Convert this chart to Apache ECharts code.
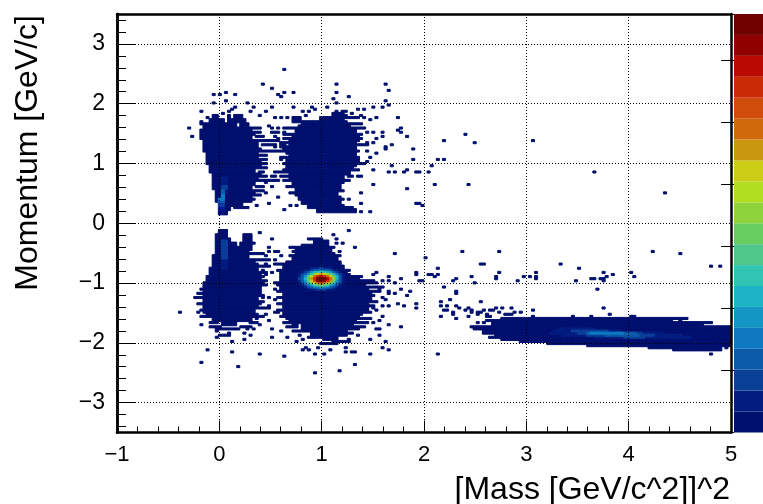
<!DOCTYPE html>
<html>
<head>
<meta charset="utf-8">
<style>html,body{margin:0;padding:0;background:#fff;overflow:hidden}#chart{width:763px;height:504px}</style>
<script src="https://cdn.jsdelivr.net/npm/echarts@6/dist/echarts.min.js"></script>
</head>
<body>
<div id="chart"></div>
<script>
// bins of the 2D histogram
const BIN_X = 0.03
const BIN_Y = 0.035

// 20 colour levels, bottom to top of the palette
const palette = ['#00106e', '#021c80', '#0a3f98', '#0b5aa8', '#0d78c0', '#1396c4', '#1eb3c6', '#31c4b2', '#4fc68a', '#66cd5e',
  '#8ed23c', '#b2de22', '#cccc14', '#c9980e', '#cf6a0c', '#cf4c0a', '#cb2a06', '#b80a02', '#900000', '#6e0000']

const yTicks = [-3, -2, -1, 0, 1, 2, 3]
const yMinorTicks = [-3.4, -3.2, -2.8, -2.6, -2.4, -2.2, -1.8, -1.6, -1.4, -1.2, -0.8, -0.6, -0.4, -0.2,
  0.2, 0.4, 0.6, 0.8, 1.2, 1.4, 1.6, 1.8, 2.2, 2.4, 2.6, 2.8, 3.2, 3.4]

// filled rows [y, x from, x to], each row two bins high, lowest level
const upperLeftRows = [
  [0.14, -0.01, 0.05], [0.21, -0.01, 0.09], [0.28, -0.01, 0.13], [0.28, 0.16, 0.22], [0.35, -0.02, 0.16], [0.35, 0.19, 0.31],
  [0.42, -0.03, 0.30], [0.49, -0.04, 0.32], [0.56, -0.05, 0.33], [0.63, -0.06, 0.34], [0.70, -0.07, 0.36], [0.77, -0.07, 0.38],
  [0.84, -0.09, 0.34], [0.91, -0.10, 0.39], [0.98, -0.11, 0.40], [1.05, -0.12, 0.38], [1.12, -0.13, 0.36], [1.19, -0.15, 0.33],
  [1.19, 0.36, 0.40], [1.26, -0.16, 0.37], [1.33, -0.16, 0.36], [1.40, -0.17, 0.32], [1.47, -0.17, 0.35], [1.54, -0.16, 0.30],
  [1.61, -0.15, 0.17], [1.61, 0.20, 0.26], [1.68, -0.10, -0.03], [1.68, 0.00, 0.04], [1.68, 0.08, 0.11], [1.68, 0.14, 0.25],
  [1.75, -0.05, -0.01], [1.75, 0.08, 0.10], [1.75, 0.15, 0.22]
]
const upperRightRows = [
  [0.20, 0.97, 1.34], [0.27, 0.87, 1.21], [0.34, 0.81, 1.18], [0.41, 0.78, 1.17], [0.48, 0.76, 1.16], [0.55, 0.74, 1.18],
  [0.62, 0.73, 1.18], [0.69, 0.71, 1.20], [0.76, 0.70, 1.22], [0.83, 0.68, 1.25], [0.90, 0.66, 1.30], [0.97, 0.65, 1.33],
  [1.04, 0.65, 1.34], [1.11, 0.70, 1.33], [1.18, 0.66, 1.33], [1.25, 0.64, 1.33], [1.32, 0.70, 1.34], [1.39, 0.70, 1.36],
  [1.46, 0.72, 1.37], [1.53, 0.74, 1.33], [1.60, 0.78, 1.28], [1.67, 0.82, 1.24], [1.74, 0.72, 0.79], [1.74, 0.98, 1.20],
  [1.81, 1.10, 1.20]
]
const lowerLeftRows = [
  [-0.17, -0.01, 0.05], [-0.24, -0.02, 0.07], [-0.24, 0.23, 0.29], [-0.31, -0.03, 0.10], [-0.31, 0.23, 0.29], [-0.38, -0.03, 0.17],
  [-0.38, 0.22, 0.31], [-0.45, -0.03, 0.20], [-0.45, 0.22, 0.32], [-0.52, -0.04, 0.27], [-0.59, -0.05, 0.30], [-0.66, -0.06, 0.33],
  [-0.73, -0.06, 0.36], [-0.80, -0.09, 0.36], [-0.87, -0.10, 0.39], [-0.94, -0.11, 0.40], [-1.01, -0.12, 0.42], [-1.08, -0.14, 0.42],
  [-1.15, -0.16, 0.38], [-1.22, -0.16, 0.40], [-1.29, -0.16, 0.36], [-1.36, -0.16, 0.39], [-1.43, -0.15, 0.38], [-1.50, -0.14, 0.36],
  [-1.57, -0.12, 0.36], [-1.64, -0.07, 0.30], [-1.71, 0.02, 0.14]
]
const lowerRightRows = [
  [-0.33, 0.92, 1.05], [-0.40, 0.82, 1.07], [-0.47, 0.76, 1.10], [-0.54, 0.74, 1.12], [-0.61, 0.71, 1.15], [-0.68, 0.66, 1.17],
  [-0.75, 0.63, 1.20], [-0.82, 0.61, 1.25], [-0.89, 0.61, 1.29], [-0.96, 0.61, 1.38], [-1.03, 0.61, 1.42], [-1.10, 0.61, 1.46],
  [-1.17, 0.62, 1.47], [-1.24, 0.62, 1.47], [-1.31, 0.63, 1.47], [-1.38, 0.63, 1.45], [-1.45, 0.63, 1.44], [-1.52, 0.64, 1.40],
  [-1.59, 0.66, 1.37], [-1.66, 0.70, 1.34], [-1.73, 0.73, 0.76], [-1.73, 0.80, 1.30], [-1.80, 0.82, 1.25], [-1.87, 0.90, 1.23],
  [-1.94, 1.03, 1.15]
]
const bandRows = [
  [-1.62, 2.75, 4.40], [-1.69, 2.66, 4.67], [-1.76, 2.49, 5.0], [-1.83, 2.58, 5.0], [-1.90, 2.71, 5.0], [-1.97, 2.94, 5.0],
  [-2.04, 3.59, 5.0], [-2.11, 4.44, 4.90]
]

// broken rows along the blob edges [y, x from, x to], one bin high
const fringeRows = [
  [1.60, 0.30, 0.40], [1.52, 0.37, 0.42], [1.52, 0.50, 0.56], [1.45, 0.36, 0.43], [1.38, 0.39, 0.46], [1.38, 0.52, 0.58],
  [1.30, 0.41, 0.48], [1.30, 0.52, 0.56], [1.30, 0.60, 0.65], [1.22, 0.40, 0.49], [1.22, 0.52, 0.56], [1.15, 0.39, 0.47],
  [1.08, 0.40, 0.46], [1.08, 0.60, 0.62], [1.00, 0.40, 0.47], [0.93, 0.41, 0.45], [0.85, 0.39, 0.44], [0.85, 0.54, 0.58],
  [0.85, 0.60, 0.66], [0.78, 0.40, 0.46], [0.78, 0.52, 0.57], [0.78, 0.60, 0.68], [0.70, 0.38, 0.50], [0.70, 0.55, 0.58],
  [0.62, 0.36, 0.44], [0.55, 0.36, 0.42], [0.47, 0.33, 0.40], [0.40, 0.31, 0.36], [0.25, 0.16, 0.28], [1.66, -0.19, -0.15],
  [1.70, 0.72, 0.80], [1.58, 0.62, 0.74], [1.50, 0.64, 0.72], [1.42, 0.63, 0.70], [1.35, 0.60, 0.68], [1.28, 0.60, 0.66],
  [1.20, 0.58, 0.66], [1.10, 0.62, 0.68], [1.00, 0.62, 0.65], [0.88, 0.62, 0.68], [0.80, 0.64, 0.70], [0.72, 0.64, 0.72],
  [0.62, 0.66, 0.73], [0.52, 0.68, 0.76], [1.75, 1.20, 1.35], [1.66, 1.24, 1.40], [1.58, 1.28, 1.42], [1.50, 1.33, 1.41],
  [1.40, 1.36, 1.40], [1.30, 1.34, 1.38], [1.30, 1.42, 1.46], [1.20, 1.33, 1.38], [1.10, 1.33, 1.37], [1.00, 1.33, 1.42],
  [0.90, 1.30, 1.36], [0.80, 1.25, 1.30], [0.80, 1.34, 1.38], [0.70, 1.20, 1.26], [0.55, 1.18, 1.22], [0.40, 1.17, 1.20],
  [0.25, 1.21, 1.30],
  [-1.0, -0.15, -0.12], [-1.1, -0.19, -0.14], [-1.18, -0.21, -0.16], [-1.25, -0.20, -0.16], [-1.35, -0.20, -0.15], [-1.45, -0.18, -0.14],
  [-1.55, -0.17, -0.12], [-1.65, -0.10, -0.04], [-1.72, -0.09, 0.02], [-1.78, -0.04, 0.16], [-1.88, 0.0, 0.10],
  [-0.35, 0.25, 0.36], [-0.5, 0.27, 0.42], [-0.62, 0.33, 0.48], [-0.73, 0.36, 0.50], [-0.82, 0.38, 0.44], [-0.95, 0.40, 0.46],
  [-1.05, 0.42, 0.46], [-1.2, 0.40, 0.45], [-1.32, 0.39, 0.44], [-1.42, 0.38, 0.47], [-1.55, 0.36, 0.44], [-1.68, 0.30, 0.38], [-1.73, 0.22, 0.32],
  [-0.42, 0.72, 0.82], [-0.42, 1.07, 1.12], [-0.55, 0.70, 0.74], [-0.55, 1.12, 1.18], [-0.7, 0.58, 0.66], [-0.78, 0.56, 0.63], [-0.78, 1.2, 1.28],
  [-0.88, 1.29, 1.40], [-0.95, 1.38, 1.48], [-1.0, 1.42, 1.55], [-1.06, 1.46, 1.60], [-1.13, 1.47, 1.56], [-1.2, 1.47, 1.52], [-1.3, 1.47, 1.55],
  [-1.38, 1.45, 1.52], [-1.48, 1.42, 1.50], [-1.58, 1.37, 1.47], [-1.65, 1.34, 1.45], [-1.72, 1.30, 1.40], [-1.78, 1.25, 1.34], [-1.85, 1.23, 1.30],
  [-1.0, 0.55, 0.61], [-1.13, 0.56, 0.62], [-1.25, 0.58, 0.62], [-1.35, 0.56, 0.63], [-1.45, 0.58, 0.63], [-1.55, 0.60, 0.66], [-1.65, 0.62, 0.70],
  [-1.72, 0.66, 0.73], [-1.82, 0.73, 0.82], [-1.92, 0.88, 1.03], [-2.0, 1.0, 1.15], [-1.98, 1.15, 1.28], [-0.28, 0.88, 1.0],
  [-1.59, 4.40, 4.55], [-1.66, 4.67, 4.80], [-2.0, 3.2, 3.6], [-2.07, 4.2, 4.5], [-1.62, 2.6, 2.75], [-1.72, 2.5, 2.6], [-1.9, 2.65, 2.75], [-1.93, 2.76, 2.94]
]

// brighter rows [y, x from, x to, level], one bin high
const brightRows = [
  [0.23, 0.01, 0.04, 1], [0.265, 0.01, 0.04, 1], [0.30, 0.01, 0.04, 2], [0.335, 0.01, 0.04, 2], [0.37, 0.01, 0.04, 3], [0.405, 0.01, 0.04, 4],
  [0.44, 0.02, 0.04, 4], [0.475, 0.02, 0.04, 4], [0.51, 0.02, 0.04, 3], [0.51, 0.04, 0.07, 1], [0.545, 0.02, 0.04, 3], [0.58, 0.02, 0.05, 2],
  [0.615, 0.02, 0.05, 2], [0.65, 0.02, 0.07, 1], [0.685, 0.02, 0.07, 1], [0.72, 0.02, 0.07, 1], [0.755, 0.02, 0.07, 1],
  [-0.30, 0.02, 0.05, 2], [-0.335, 0.02, 0.05, 2], [-0.37, 0.02, 0.05, 2], [-0.405, 0.02, 0.05, 2], [-0.44, 0.02, 0.05, 2], [-0.475, 0.02, 0.05, 2],
  [-0.51, 0.02, 0.05, 2], [-0.545, 0.02, 0.05, 2], [-0.58, 0.02, 0.05, 2], [-0.615, 0.02, 0.05, 1], [-0.65, 0.02, 0.05, 1], [-0.685, 0.02, 0.05, 1],
  [-0.72, 0.02, 0.05, 1], [-0.755, 0.02, 0.05, 1],
  [-1.76, 3.33, 3.66, 1], [-1.795, 3.27, 3.92, 1], [-1.795, 3.46, 3.79, 2], [-1.83, 3.23, 4.31, 1], [-1.83, 3.50, 4.11, 2], [-1.83, 3.60, 4.05, 3],
  [-1.83, 3.63, 3.95, 4], [-1.865, 3.36, 4.50, 1], [-1.865, 3.59, 4.24, 2], [-1.865, 3.79, 4.11, 3], [-1.90, 3.69, 4.60, 1], [-1.90, 3.96, 4.15, 2]
]

// peak near (1, -0.9): one row per y bin, level in each x bin starting at hotX
const hotX = 0.78
const hotY = [-0.74, -0.775, -0.81, -0.845, -0.88, -0.915, -0.95, -0.985, -1.02, -1.055, -1.09]
const hotLevels = [
  [0, 0, 0, 0, 1, 1, 1, 2, 1, 1, 1, 0, 0, 0, 0],
  [0, 0, 1, 1, 2, 3, 3, 4, 3, 3, 2, 1, 1, 0, 0],
  [0, 1, 2, 3, 5, 6, 7, 7, 7, 6, 5, 3, 2, 1, 0],
  [1, 2, 3, 5, 7, 10, 12, 13, 12, 10, 8, 6, 4, 2, 1],
  [1, 3, 5, 8, 11, 14, 16, 17, 16, 14, 12, 9, 6, 3, 1],
  [2, 3, 6, 9, 13, 16, 19, 19, 19, 17, 14, 10, 6, 3, 1],
  [1, 3, 5, 8, 12, 15, 18, 19, 18, 16, 13, 9, 5, 3, 1],
  [1, 2, 4, 6, 9, 11, 13, 14, 13, 11, 9, 6, 4, 2, 1],
  [0, 1, 2, 4, 5, 7, 8, 9, 8, 7, 5, 4, 2, 1, 0],
  [0, 0, 1, 2, 3, 4, 4, 5, 4, 4, 3, 2, 1, 0, 0],
  [0, 0, 0, 1, 1, 1, 2, 2, 2, 1, 1, 1, 0, 0, 0]
]

// single isolated bins [x, y]
const upperStrays = [
  [0.63, 2.56], [0.42, 2.32], [0.51, 2.25], [0.58, 2.15], [0.60, 2.12], [0.63, 2.18], [0.72, 2.18], [-0.05, 2.15], [0.01, 2.15], [0.07, 2.18],
  [0.15, 2.15], [-0.05, 2.0], [0.07, 2.04], [0.27, 2.0], [0.15, 1.93], [0.09, 1.87], [0.33, 1.93], [0.30, 1.87], [0.46, 1.87], [0.51, 1.93],
  [0.72, 1.93], [-0.17, 1.87], [-0.12, 1.78], [0.12, 1.89], [0.20, 1.81], [0.04, 1.84], [0.40, 1.81], [0.54, 1.77], [0.60, 1.77], [0.66, 1.77],
  [0.76, 1.76], [0.81, 1.87], [0.87, 1.87], [0.90, 1.93], [0.93, 1.91], [0.84, 1.81], [1.06, 1.93], [1.14, 2.32], [1.14, 2.18], [1.26, 2.12],
  [1.11, 2.08], [1.14, 2.0], [1.62, 2.32], [1.65, 2.22], [1.62, 2.04], [1.65, 1.98], [1.59, 1.93], [1.50, 1.93], [1.41, 1.91], [1.34, 1.91],
  [1.24, 1.87], [1.15, 1.87], [1.18, 1.82], [1.20, 1.87], [1.22, 1.80], [1.29, 1.84], [1.37, 1.81], [1.53, 1.77], [1.47, 1.73], [1.41, 1.78],
  [1.74, 1.77], [1.77, 1.59], [1.77, 1.52], [1.83, 1.45], [1.89, 1.24], [1.62, 1.27], [1.62, 1.24], [1.59, 1.52], [1.59, 1.45], [1.50, 1.52],
  [1.44, 1.52], [1.53, 1.41], [1.50, 1.34], [1.44, 1.34], [1.44, 1.2], [1.53, 1.17], [1.47, 1.1], [1.44, 1.02], [1.68, 0.97], [1.71, 0.87],
  [1.92, 0.87], [1.50, 0.89], [1.50, 0.64], [1.83, 0.59], [1.38, 0.52], [1.38, 0.34], [1.26, 0.41], [1.92, 0.34], [1.94, 0.34], [1.47, 0.2],
  [1.37, 0.2], [0.63, 0.24], [0.69, 0.31], [0.76, 0.31], [0.49, 0.34], [0.57, 0.44], [0.36, 0.31], [0.54, 1.51], [0.54, 1.45], [0.58, 1.42],
  [0.48, 1.37], [0.49, 1.31], [0.54, 1.31], [0.53, 1.26], [0.46, 1.12], [0.60, 1.11], [0.54, 0.87], [0.54, 0.78], [0.61, 0.87], [0.64, 0.78],
  [0.50, 0.73], [0.46, 0.67], [0.43, 0.62], [0.40, 0.48], [0.46, 0.51], [0.51, 0.62], [0.48, 1.64], [0.51, 1.59], [0.58, 1.59], [0.64, 1.53],
  [0.67, 1.59], [-0.29, 1.59], [-0.26, 1.45], [-0.17, 1.7], [-0.17, 1.56], [3.66, 0.84], [4.35, 0.51], [1.82, 0.89], [2.39, 1.48], [2.18, 1.39],
  [2.50, 1.36], [2.13, 1.06], [2.19, 1.07], [2.06, 0.97], [1.96, 0.86], [2.04, 0.86], [1.80, 0.86], [1.75, 1.56], [1.94, 0.34], [1.98, 0.31],
  [1.65, 0.86], [1.67, 1.31], [2.43, 0.64], [2.11, 0.64], [1.88, 1.06], [3.07, 1.38]
]
const lowerStrays = [
  [0.40, -0.17], [0.51, -0.27], [1.26, -0.13], [1.11, -0.2], [1.14, -0.27], [1.14, -0.33], [1.20, -0.33], [1.33, -0.41], [1.17, -0.47], [1.17, -0.54],
  [1.71, -0.51], [0.49, -0.41], [0.49, -0.46], [0.54, -0.48], [0.58, -0.48], [0.60, -0.54], [0.70, -0.41], [0.72, -0.48], [0.46, -0.56], [0.40, -0.51],
  [0.49, -0.61], [0.54, -0.61], [0.54, -0.68], [0.46, -0.68], [0.43, -0.79], [0.46, -0.86], [0.51, -0.84], [0.43, -0.9], [0.54, -1.0], [0.54, -1.09],
  [0.58, -1.04], [0.48, -1.23], [0.54, -1.29], [0.58, -1.23], [0.48, -1.37], [0.43, -1.23], [0.54, -1.48], [0.58, -1.48], [0.46, -1.51], [0.49, -1.62],
  [0.40, -1.69], [0.36, -1.61], [0.23, -1.94], [0.28, -1.76], [0.23, -1.84], [0.17, -1.76], [0.10, -1.84], [0.04, -1.87], [-0.04, -1.91], [-0.17, -1.69],
  [-0.09, -1.73], [-0.03, -1.8], [0.07, -1.87], [0.12, -1.98], [-0.11, -2.11], [0.12, -2.15], [0.40, -2.18], [0.63, -2.22], [-0.18, -2.33], [0.18, -2.39],
  [0.94, -2.49], [1.17, -2.46], [1.33, -2.36], [-0.38, -1.48], [-0.24, -1.24], [-0.20, -1.34], [-0.20, -1.48], [-0.17, -1.57], [0.31, -1.87], [0.33, -1.76],
  [0.51, -1.76], [0.51, -1.9], [0.60, -1.8], [0.66, -1.91], [0.72, -1.82], [0.77, -1.87], [0.82, -1.96], [0.85, -2.07], [0.82, -2.12], [0.76, -1.98],
  [0.87, -2.11], [0.93, -2.18], [0.97, -2.09], [1.02, -2.18], [0.99, -2.0], [1.08, -2.11], [1.11, -1.98], [1.23, -2.09], [1.29, -2.15], [1.33, -2.15],
  [1.23, -2.15], [1.47, -2.18], [1.59, -2.08], [1.65, -2.11], [1.62, -1.98], [1.47, -1.93], [1.56, -1.87], [1.36, -1.87], [1.26, -1.93], [1.18, -1.97],
  [1.50, -0.87], [1.54, -0.83], [1.65, -0.9], [1.65, -0.96], [1.59, -0.96], [1.50, -0.96], [1.72, -1.0], [1.77, -0.93], [1.92, -0.84], [1.92, -0.87],
  [1.94, -0.97], [1.77, -1.12], [1.71, -1.17], [1.86, -1.13], [1.83, -1.21], [1.65, -1.15], [1.65, -1.19], [1.57, -1.09], [1.60, -1.24], [1.62, -1.28],
  [1.65, -1.39], [1.74, -1.36], [1.80, -1.39], [1.92, -1.36], [1.92, -1.42], [1.50, -1.43], [1.54, -1.46], [1.60, -1.39], [1.59, -1.57], [1.56, -1.62],
  [1.50, -1.68], [1.65, -1.69], [1.77, -1.73], [1.57, -1.76], [1.54, -1.76], [1.42, -1.73]
]
const bandStrays = [
  [2.01, -0.58], [2.37, -0.48], [2.73, -0.48], [2.14, -0.76], [2.54, -0.69], [2.57, -0.69], [2.73, -0.83], [3.34, -0.69], [3.51, -0.76], [4.23, -0.48],
  [4.50, -0.52], [4.80, -0.72], [4.90, -0.72], [2.05, -0.86], [2.08, -0.86], [2.14, -0.86], [2.11, -0.9], [1.98, -0.97], [2.29, -0.97], [2.31, -0.93],
  [2.47, -0.9], [2.50, -1.0], [2.71, -0.9], [2.71, -0.93], [2.92, -0.97], [2.97, -0.9], [3.04, -0.9], [3.09, -0.83], [3.09, -0.9], [3.09, -0.93],
  [3.49, -0.97], [3.63, -0.93], [3.66, -0.93], [3.72, -0.93], [3.75, -0.83], [3.75, -0.93], [3.75, -0.97], [3.78, -0.9], [3.84, -0.86], [4.02, -0.83],
  [4.05, -0.9], [2.20, -1.07], [2.32, -1.14], [2.32, -1.18], [3.69, -1.11], [2.17, -1.31], [2.26, -1.28], [2.17, -1.38], [2.22, -1.38], [2.32, -1.38],
  [2.35, -1.42], [2.55, -1.31], [2.20, -1.45], [2.22, -1.45], [2.29, -1.48], [2.29, -1.52], [2.17, -1.56], [2.32, -1.59], [2.40, -1.45], [2.44, -1.42],
  [2.47, -1.45], [2.47, -1.48], [2.44, -1.56], [2.53, -1.48], [2.53, -1.52], [2.56, -1.48], [2.58, -1.45], [2.65, -1.45], [2.67, -1.45], [2.71, -1.42],
  [2.62, -1.52], [2.62, -1.56], [2.65, -1.56], [2.73, -1.48], [2.77, -1.42], [2.79, -1.52], [2.83, -1.52], [2.86, -1.42], [2.89, -1.48], [2.94, -1.48],
  [2.86, -1.52], [3.07, -1.45], [3.07, -1.56], [3.75, -1.42], [3.81, -1.52], [2.53, -1.66], [2.47, -1.73], [2.50, -1.76], [2.53, -1.73], [2.58, -1.66],
  [2.58, -1.73], [2.58, -1.8], [2.62, -1.80], [2.71, -1.83], [2.77, -1.9], [2.89, -1.9], [2.92, -1.90], [2.14, -2.18], [3.46, -1.56], [3.63, -1.56],
  [4.02, -1.56], [4.05, -1.56], [4.23, -1.59], [4.29, -1.59], [4.36, -1.59], [4.41, -1.62], [4.50, -1.62], [4.56, -1.61], [4.62, -1.65], [4.72, -1.71],
  [4.56, -1.65], [3.24, -1.94], [3.36, -1.97], [3.63, -2.01], [3.78, -2.01], [3.96, -2.04], [4.08, -2.01], [4.26, -2.04], [4.41, -2.08], [4.48, -2.08],
  [4.50, -2.11], [4.65, -2.11], [4.73, -2.11], [4.73, -2.08], [4.80, -2.18], [4.83, -2.11], [4.95, -2.08]
]

// colour scale ticks run every 100 from 0, top of the palette is just under 674
const colorMax = 674
const colorTickStep = 100

// collect bins, the brightest entry wins
const cells = new Map()
function setCell(x, y, level) {
  const ix = Math.floor((x + 1) / BIN_X + 1e-6)
  const iy = Math.floor((y + 3.5) / BIN_Y + 1e-6)
  if (ix < 0 || ix >= 200) return
  const key = ix + ',' + iy
  if (!cells.has(key) || cells.get(key) < level) cells.set(key, level)
}
function fillRow(y, x0, x1, level) {
  for (let x = x0; x <= x1 + 1e-6; x += BIN_X) setCell(x, y, level)
}
;[upperLeftRows, upperRightRows, lowerLeftRows, lowerRightRows, bandRows].forEach((rows) => {
  rows.forEach(([y, x0, x1]) => {
    fillRow(y, x0, x1, 0)
    fillRow(y + BIN_Y, x0, x1, 0)
  })
})
fringeRows.forEach(([y, x0, x1]) => fillRow(y, x0, x1, 0))
brightRows.forEach(([y, x0, x1, level]) => fillRow(y, x0, x1, level))
hotLevels.forEach((row, r) => {
  row.forEach((level, c) => setCell(hotX + c * BIN_X, hotY[r], level))
})
;[upperStrays, lowerStrays, bandStrays].forEach((list) => {
  list.forEach(([x, y]) => setCell(x, y, 0))
})

// low levels first so the peak is painted over its neighbours
const cellData = []
cells.forEach((level, key) => {
  const [ix, iy] = key.split(',').map(Number)
  cellData.push([-1 + ix * BIN_X, -3.5 + iy * BIN_Y, level])
})
cellData.sort((a, b) => a[2] - b[2])
const colorBands = palette.map((c, i) => [i * colorMax / palette.length, (i + 1) * colorMax / palette.length, i])

const FONT = '"Liberation Sans", Arial, sans-serif'
const minus = (v) => String(v).replace('-', '\u2212')
const dotted = { show: true, lineStyle: { color: '#000', width: 1, type: [1, 2] } }

// only draws a frame edge
function edgeAxis(extra) {
  return Object.assign({
    type: 'value',
    axisLine: { show: true, onZero: false, lineStyle: { color: '#000', width: 2.5 } },
    axisTick: { show: false },
    axisLabel: { show: false },
    splitLine: { show: false },
    z: 10,
  }, extra)
}

const chart = echarts.init(document.getElementById('chart'), null, { renderer: 'canvas' })
chart.setOption({
  animation: false,
  backgroundColor: '#fff',
  textStyle: { fontFamily: FONT },
  grid: [
    { left: 117, top: 14, width: 614, height: 418.5 },
    { left: 734, top: 14, width: 30, height: 418.5 },
  ],
  xAxis: [
    {
      type: 'value', min: -1, max: 5, interval: 1, position: 'bottom', z: 10,
      axisLine: { show: true, onZero: false, lineStyle: { color: '#000', width: 2.5 } },
      axisTick: { show: true, inside: true, length: 12, lineStyle: { color: '#000', width: 1 } },
      minorTick: { show: true, splitNumber: 5, length: 6, lineStyle: { color: '#000', width: 1 } },
      axisLabel: { color: '#000', fontSize: 22, margin: 11, fontFamily: FONT, formatter: minus, showMinLabel: true, showMaxLabel: true },
      splitLine: dotted,
    },
    edgeAxis({ min: -1, max: 5, position: 'top' }),
    { type: 'value', gridIndex: 1, min: 0, max: 1, show: false },
  ],
  yAxis: [
    {
      type: 'value', min: -3.5, max: 3.5, position: 'left', z: 10,
      axisLine: { show: true, onZero: false, lineStyle: { color: '#000', width: 2.5 } },
      axisTick: { show: true, inside: true, length: 18, customValues: yTicks, lineStyle: { color: '#000', width: 1 } },
      axisLabel: { color: '#000', fontSize: 23, margin: 12, fontFamily: FONT, customValues: yTicks, formatter: minus },
      splitLine: dotted,
    },
    edgeAxis({
      min: -3.5, max: 3.5, position: 'left',
      axisTick: { show: true, inside: true, length: 9, customValues: yMinorTicks, lineStyle: { color: '#000', width: 1 } },
    }),
    edgeAxis({ min: -3.5, max: 3.5, position: 'right' }),
    {
      type: 'value', gridIndex: 1, min: 0, max: colorMax, interval: colorTickStep, position: 'right', z: 10,
      axisLine: { show: false },
      axisTick: { show: true, inside: true, length: 13, lineStyle: { color: '#000', width: 1 } },
      axisLabel: { show: false },
      splitLine: { show: false },
    },
  ],
  series: [
    {
      type: 'custom',
      xAxisIndex: 0,
      yAxisIndex: 0,
      clip: true,
      silent: true,
      progressive: 0,
      data: cellData,
      encode: { x: 0, y: 1 },
      renderItem(params, api) {
        const x = api.value(0)
        const y = api.value(1)
        const p0 = api.coord([x, y + BIN_Y])
        const p1 = api.coord([x + BIN_X, y])
        const fill = palette[api.value(2)]
        return {
          type: 'rect',
          shape: { x: p0[0], y: p0[1], width: p1[0] - p0[0], height: p1[1] - p0[1] },
          // the reference bins bleed a little past their edges
          style: { fill: fill, stroke: fill, lineWidth: 1 },
        }
      },
    },
    {
      type: 'custom',
      xAxisIndex: 2,
      yAxisIndex: 3,
      silent: true,
      data: colorBands,
      encode: { y: [0, 1] },
      renderItem(params, api) {
        const p0 = api.coord([0, api.value(1)])
        const p1 = api.coord([1, api.value(0)])
        return {
          type: 'rect',
          shape: { x: p0[0], y: p0[1], width: p1[0] - p0[0], height: p1[1] - p0[1] },
          style: { fill: palette[api.value(2)] },
        }
      },
    },
  ],
  graphic: [
    {
      type: 'text', right: 33, top: 474, z: 20,
      style: { text: '[Mass [GeV/c^2]]^2', font: '32px ' + FONT, fill: '#000' },
    },
    {
      type: 'text', x: 28, y: 15, rotation: Math.PI / 2, z: 20,
      style: { text: 'Momentum [GeV/c]', font: '32px ' + FONT, fill: '#000', textAlign: 'right', textVerticalAlign: 'middle' },
    },
  ],
})
</script>
</body>
</html>
